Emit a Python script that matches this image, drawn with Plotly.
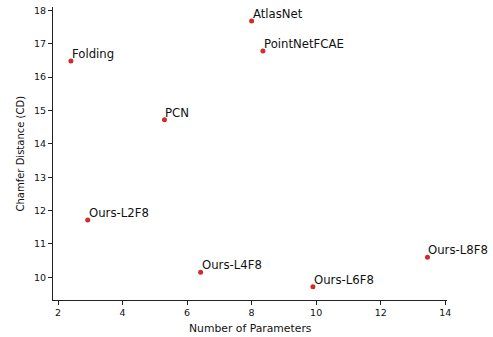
import plotly.graph_objects as go

labels = ["Folding", "PCN", "AtlasNet", "PointNetFCAE", "Ours-L2F8", "Ours-L4F8", "Ours-L6F8", "Ours-L8F8"]
params = [2.4, 5.3, 8.0, 8.35, 2.92, 6.42, 9.9, 13.45]
cd = [16.48, 14.72, 17.68, 16.78, 11.72, 10.15, 9.72, 10.6]

W, H = 493, 337
ML, MR, MT, MB = 53, 46, 7, 37
plot_w = W - ML - MR
plot_h = H - MT - MB

fig = go.Figure()
fig.add_trace(go.Scatter(x=params, y=cd, mode="markers",
                         marker=dict(color="#d42a2a", size=5), showlegend=False))
for lab, x, y in zip(labels, params, cd):
    fig.add_annotation(x=x, y=y, text=lab, showarrow=False, xanchor="left", yanchor="bottom",
                       xshift=-1, yshift=-2, font=dict(family="DejaVu Sans", size=11.7, color="#111"))

axis_common = dict(showline=True, linecolor="#222", linewidth=1, ticks="outside", ticklen=4,
                   tickcolor="#222", showgrid=False, zeroline=False, automargin=False,
                   tickfont=dict(family="DejaVu Sans", size=9.5, color="#111"))
fig.update_xaxes(range=[1.845, 14.055], tickvals=[2, 4, 6, 8, 10, 12, 14], **axis_common)
fig.update_yaxes(range=[9.32, 18.1], tickvals=[10, 11, 12, 13, 14, 15, 16, 17, 18], **axis_common)
fig.add_annotation(x=0.5, xref="paper", y=-28 / plot_h, yref="paper", text="Number of Parameters",
                   showarrow=False, yanchor="middle",
                   font=dict(family="DejaVu Sans", size=10.8, color="#111"))
fig.add_annotation(x=-33 / plot_w, xref="paper", y=0.5, yref="paper",
                   text="Chamfer Distance (CD)", textangle=-90, showarrow=False,
                   xanchor="center", yanchor="middle",
                   font=dict(family="DejaVu Sans", size=10, color="#111"))
fig.update_layout(width=W, height=H, margin=dict(l=ML, r=MR, t=MT, b=MB),
                  plot_bgcolor="white", paper_bgcolor="white", hovermode=False)
fig.write_html("out.html", config={"displayModeBar": False},
               post_script="document.body.style.margin='0';")
